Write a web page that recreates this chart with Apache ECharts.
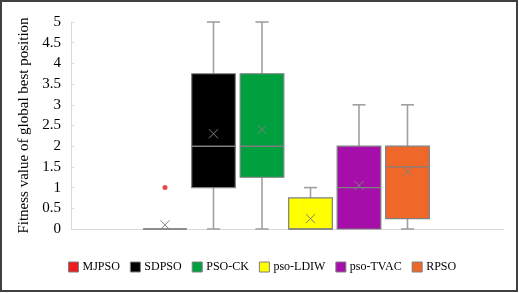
<!DOCTYPE html>
<html>
<head>
<meta charset="utf-8">
<style>
    html, body{
        margin: 0;
        padding: 0;
        background: #fff;
    }
    #boxchart{
        width: 519px;
        height: 293px;
    }
</style>
<script src="https://cdn.jsdelivr.net/npm/echarts@6/dist/echarts.min.js"></script>
</head>
<body>
<div id="boxchart"></div>
<script>
    //算法名称
    var names = ['MJPSO', 'SDPSO', 'PSO-CK', 'pso-LDIW', 'pso-TVAC', 'RPSO'];
    //箱线图数据
    var minValues = [0, 0, 0, 0, 0, 0];
    var q1Values = [0, 1, 1.25, 0, 0, 0.25];
    var medianValues = [0, 2, 2, 0, 1, 1.5];
    var q3Values = [0, 3.75, 3.75, 0.75, 2, 2];
    var maxValues = [0, 5, 5, 1, 3, 3];
    var meanValues = [0.1, 2.3, 2.4, 0.25, 1.05, 1.4];
    //异常点 [算法序号, 值]
    var outliers = [[0, 1]];
    //y轴范围
    var yMin = 0, yMax = 5, yStep = 0.5;

    var colors = ['#ee1c1c', '#000000', '#00a03e', '#ffff00', '#a50ea8', '#f0672a'];
    var edgeColor = '#7f7f7f';
    var whiskerColor = '#a0a0a0';
    var fontName = 'Liberation Serif';

    //画一个箱子
    function renderBox(params, api) {
        var x = api.value(0);
        var pMin = api.coord([x, api.value(1)]);
        var pQ1 = api.coord([x, api.value(2)]);
        var pMed = api.coord([x, api.value(3)]);
        var pQ3 = api.coord([x, api.value(4)]);
        var pMax = api.coord([x, api.value(5)]);
        var pMean = api.coord([x, api.value(6)]);
        var band = api.size([1, 0])[0];
        var bw = band * 0.9;
        var cap = band * 0.27;
        var cx = pMed[0];
        var lineStyle = { stroke: whiskerColor, lineWidth: 1.6 };
        var children = [];
        if (pMax[1] < pQ3[1]) {
            children.push({ type: 'line', shape: { x1: cx, y1: pQ3[1], x2: cx, y2: pMax[1] }, style: lineStyle });
            children.push({ type: 'line', shape: { x1: cx - cap / 2, y1: pMax[1], x2: cx + cap / 2, y2: pMax[1] }, style: lineStyle });
        }
        if (pMin[1] > pQ1[1]) {
            children.push({ type: 'line', shape: { x1: cx, y1: pQ1[1], x2: cx, y2: pMin[1] }, style: lineStyle });
            children.push({ type: 'line', shape: { x1: cx - cap / 2, y1: pMin[1], x2: cx + cap / 2, y2: pMin[1] }, style: lineStyle });
        }
        children.push({
            type: 'rect',
            shape: { x: cx - bw / 2, y: pQ3[1], width: bw, height: pQ1[1] - pQ3[1] },
            style: { fill: api.visual('color'), stroke: edgeColor, lineWidth: 1.2 }
        });
        children.push({
            type: 'line',
            shape: { x1: cx - bw / 2, y1: pMed[1], x2: cx + bw / 2, y2: pMed[1] },
            style: { stroke: edgeColor, lineWidth: 1.4 }
        });
        //均值 ×
        var r = 4.5;
        children.push({ type: 'line', shape: { x1: pMean[0] - r, y1: pMean[1] - r, x2: pMean[0] + r, y2: pMean[1] + r }, style: { stroke: '#808080', lineWidth: 1 } });
        children.push({ type: 'line', shape: { x1: pMean[0] - r, y1: pMean[1] + r, x2: pMean[0] + r, y2: pMean[1] - r }, style: { stroke: '#808080', lineWidth: 1 } });
        return { type: 'group', children: children };
    }

    var series = [];
    for (var i = 0; i < names.length; i++) {
        series.push({
            type: 'custom',
            name: names[i],
            xAxisIndex: 1,
            yAxisIndex: 1,
            itemStyle: { color: colors[i] },
            renderItem: renderBox,
            encode: { x: 0, y: [1, 2, 3, 4, 5, 6] },
            data: [[i, minValues[i], q1Values[i], medianValues[i], q3Values[i], maxValues[i], meanValues[i]]],
            silent: true
        });
    }
    series.push({
        type: 'scatter',
        name: 'outlier',
        xAxisIndex: 1,
        yAxisIndex: 1,
        symbolSize: 5,
        itemStyle: { color: '#e31a1c' },
        data: outliers,
        silent: true
    });

    var myChart = echarts.init(document.getElementById('boxchart'));
    myChart.setOption({
        animation: false,
        //外框
        graphic: [{
            type: 'rect',
            shape: { x: 1, y: 1, width: 516, height: 290 },
            style: { fill: 'none', stroke: '#404040', lineWidth: 2 }
        }],
        grid: [
            { left: 71, right: 15, top: 22, bottom: 64 },   //坐标轴
            { left: 140.75, width: 291, top: 22, bottom: 64 } //箱子
        ],
        xAxis: [
            {
                type: 'category',
                gridIndex: 0,
                data: [''],
                axisLine: { lineStyle: { color: '#d9d9d9', width: 1 } },
                axisTick: { show: false },
                axisLabel: { show: false }
            },
            {
                type: 'category',
                gridIndex: 1,
                data: names,
                show: false
            }
        ],
        yAxis: [
            {
                type: 'value',
                gridIndex: 0,
                min: yMin,
                max: yMax,
                interval: yStep,
                name: 'Fitness value of global best position',
                nameLocation: 'middle',
                nameGap: 39,
                nameTextStyle: { fontFamily: fontName, fontSize: 15, color: '#000' },
                axisLine: { show: true, lineStyle: { color: '#d9d9d9', width: 1 } },
                axisTick: { show: true, inside: true, length: 3, lineStyle: { color: '#d9d9d9' } },
                splitLine: { show: false },
                axisLabel: { fontFamily: fontName, fontSize: 15, color: '#000', margin: 10 }
            },
            {
                type: 'value',
                gridIndex: 1,
                min: yMin,
                max: yMax,
                interval: yStep,
                show: false,
                splitLine: { show: false }
            }
        ],
        legend: {
            data: names,
            left: 68,
            top: 261,
            padding: 0,
            icon: 'rect',
            itemWidth: 10,
            itemHeight: 10,
            itemGap: 10,
            itemStyle: { borderColor: edgeColor, borderWidth: 1 },
            textStyle: { fontFamily: fontName, fontSize: 12, color: '#000', padding: [0, 0, 0, -1] }
        },
        series: series
    });
</script>
</body>
</html>
